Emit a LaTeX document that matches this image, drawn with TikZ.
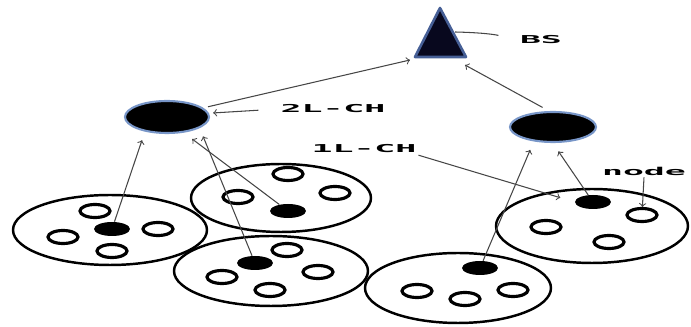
\documentclass[tikz,border=0pt]{standalone}
\usepackage{fontspec}
\usetikzlibrary{shapes.geometric}
\newfontfamily\lblfont{DejaVu Sans Mono Bold}
\newcommand{\wide}[1]{\scalebox{3.2}[1]{#1}}
\definecolor{bsfill}{RGB}{8,8,30}
\definecolor{bsedge}{RGB}{70,95,150}
\definecolor{chedge}{RGB}{120,150,200}
\definecolor{linkgray}{RGB}{70,70,70}
\begin{document}
\begin{tikzpicture}[x=0.02cm,y=-0.02cm,
    cluster/.style={ellipse,draw,line width=1.4pt,inner sep=0pt},
    member/.style={ellipse,draw,line width=1.8pt,minimum width=0.6cm,minimum height=0.26cm,inner sep=0pt},
    head/.style={ellipse,fill=black,minimum width=0.72cm,minimum height=0.28cm,inner sep=0pt},
    chead/.style={ellipse,fill=black,draw=chedge,line width=1.2pt,inner sep=0pt,outer sep=0.1cm},
    link/.style={->,linkgray,line width=0.6pt},
    up/.style={link,shorten >=3pt},
    lbl/.style={font=\lblfont\fontsize{6.2}{7}\selectfont,inner sep=1pt}]
    \useasboundingbox (0,0) rectangle (691,327);
    %% base station
    \filldraw[fill=bsfill,draw=bsedge,line width=1.5pt,line join=round] (440,8) -- (415,57) -- (466,57) -- cycle;
    \coordinate (bsside) at (455,32);
    \coordinate (bsl) at (410,60);
    \coordinate (bsr) at (465,65);
    \node[lbl] (lblbs) at (541,40) {\wide{BS}};
    %% cluster heads
    \node[chead,minimum width=1.68cm,minimum height=0.64cm] (ch2) at (167,117) {};
    \node[chead,minimum width=1.72cm,minimum height=0.6cm] (ch1) at (553,127) {};
    \node[lbl] (lbl2) at (333,109) {\wide{2L-CH}};
    \node[lbl] (lbl1) at (364,149) {\wide{1L-CH}};
    \node[lbl] (lblnode) at (644,171) {\wide{node}};
    %% clusters
    \node[cluster,minimum width=3.88cm,minimum height=1.4cm] (ca) at (110,230) {};
    \node[cluster,minimum width=3.6cm,minimum height=1.36cm] (cb) at (281,198) {};
    \node[cluster,minimum width=3.88cm,minimum height=1.4cm] (cc) at (271,271) {};
    \node[cluster,minimum width=3.72cm,minimum height=1.4cm] (cd) at (458,288) {};
    \node[cluster,minimum width=3.84cm,minimum height=1.48cm] (ce) at (592,226) {};
    %% members and heads
    \node[head] (ha) at (112,229) {};
    \node[member] (a1) at (95,211) {};
    \node[member] (a2) at (63,237) {};
    \node[member] (a3) at (158,229) {};
    \node[member] (a4) at (112,251) {};
    \node[head] (hb) at (288,211) {};
    \node[member] (b1) at (288,174) {};
    \node[member] (b2) at (238,197) {};
    \node[member] (b3) at (335,193) {};
    \node[head] (hc) at (255,263) {};
    \node[member] (c1) at (287,250) {};
    \node[member] (c2) at (222,277) {};
    \node[member] (c3) at (318,272) {};
    \node[member] (c4) at (270,290) {};
    \node[head] (hd) at (480,268) {};
    \node[member] (d1) at (417,291) {};
    \node[member] (d2) at (465,299) {};
    \node[member] (d3) at (513,290) {};
    \node[head] (he) at (593,202) {};
    \node[member] (e1) at (642,215) {};
    \node[member] (e2) at (546,227) {};
    \node[member] (e3) at (609,242) {};
    %% links
    \draw[up] (ha) -- (ch2.218);
    \draw[up] (hb) -- (ch2.318);
    \draw[up] (hc) -- (ch2.337);
    \draw[up] (hd) -- (ch1.221);
    \draw[up] (he) -- (ch1.277);
    \draw[link] (ch2.14) -- (bsl);
    \draw[link] (ch1.118) -- (bsr);
    %% label pointers
    \draw[linkgray,line width=0.6pt,shorten >=0.4cm] (bsside) to[bend left=6] (lblbs.west);
    \draw[link,shorten <=0.4cm] (lbl2.west) -- (ch2.5);
    \draw[link,shorten >=0.3cm] (lbl1.south east) -- (he.west);
    \draw[link] (lblnode.south) -- (e1);
\end{tikzpicture}
\end{document}
